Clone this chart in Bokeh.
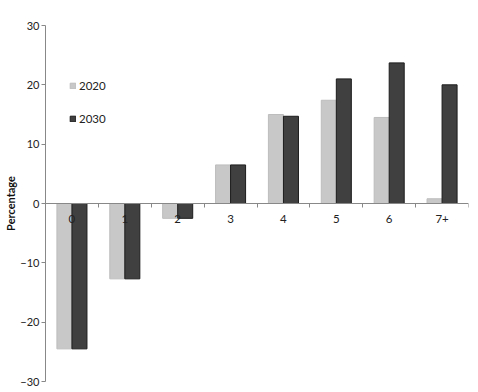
from bokeh.plotting import figure
from bokeh.models import ColumnDataSource, FixedTicker, Range1d, Legend, LegendItem
from bokeh.transform import dodge
from bokeh.embed import file_html
from bokeh.resources import INLINE

categories = ["0", "1", "2", "3", "4", "5", "6", "7+"]
series_2020 = [-24.5, -12.7, -2.5, 6.5, 15.0, 17.4, 14.5, 0.8]
series_2030 = [-24.5, -12.7, -2.5, 6.5, 14.7, 21.0, 23.7, 20.0]
years = ["2020", "2030"]
y_ticks = [-30, -20, -10, 0, 10, 20, 30]

FONT = "Lato"
centers = [i + 0.5 for i in range(len(categories))]
src = ColumnDataSource(dict(x=centers, a=series_2020, b=series_2030))

p = figure(width=478, height=392, x_range=Range1d(0, len(categories)),
           y_range=Range1d(-30, 30), output_backend="svg", toolbar_location=None,
           min_border_left=45, min_border_right=10, min_border_top=25,
           min_border_bottom=11)
p.outline_line_color = None
p.grid.visible = False
p.background_fill_color = "white"

r1 = p.vbar(x=dodge("x", -0.142, range=p.x_range), top="a", width=0.284, source=src,
            fill_color="#c8c8c8", line_color="#bdbdbd", line_width=1)
r2 = p.vbar(x=dodge("x", 0.142, range=p.x_range), top="b", width=0.284, source=src,
            fill_color="#404040", line_color="#1c1c1c", line_width=1)

# x axis at zero
xa = p.xaxis[0]
xa.fixed_location = 0
xa.ticker = FixedTicker(ticks=centers, minor_ticks=list(range(len(categories) + 1)))
xa.major_label_overrides = {c: lab for c, lab in zip(centers, categories)}
xa.major_tick_line_color = None
xa.minor_tick_in = 0
xa.minor_tick_out = 4
xa.minor_tick_line_color = "#888888"
xa.axis_line_color = "#888888"
xa.major_label_text_font = FONT
xa.major_label_text_font_size = "11.5px"
xa.major_label_text_color = "#222222"
xa.major_label_standoff = 5

ya = p.yaxis[0]
ya.ticker = FixedTicker(ticks=y_ticks)
ya.minor_tick_line_color = None
ya.major_tick_in = 0
ya.major_tick_out = 4
ya.major_tick_line_color = "#888888"
ya.axis_line_color = "#888888"
ya.major_label_text_font = FONT
ya.major_label_text_font_size = "11px"
ya.major_label_text_color = "#222222"
ya.major_label_standoff = 2
ya.axis_label = "Percentage"
ya.axis_label_text_font = FONT
ya.axis_label_text_font_style = "bold"
ya.axis_label_text_font_size = "11px"
ya.axis_label_text_color = "#111111"
ya.axis_label_standoff = 0

legend = Legend(items=[LegendItem(label=years[0], renderers=[r1]),
                       LegendItem(label=years[1], renderers=[r2])],
                location=(24, 256), orientation="vertical",
                glyph_width=7, glyph_height=7, label_text_font=FONT,
                label_text_font_size="11.5px", label_text_color="#222222",
                spacing=20, padding=0, margin=0, label_standoff=3,
                border_line_color=None, background_fill_alpha=0)
p.add_layout(legend)

open("out.html", "w").write(file_html(p, INLINE))
